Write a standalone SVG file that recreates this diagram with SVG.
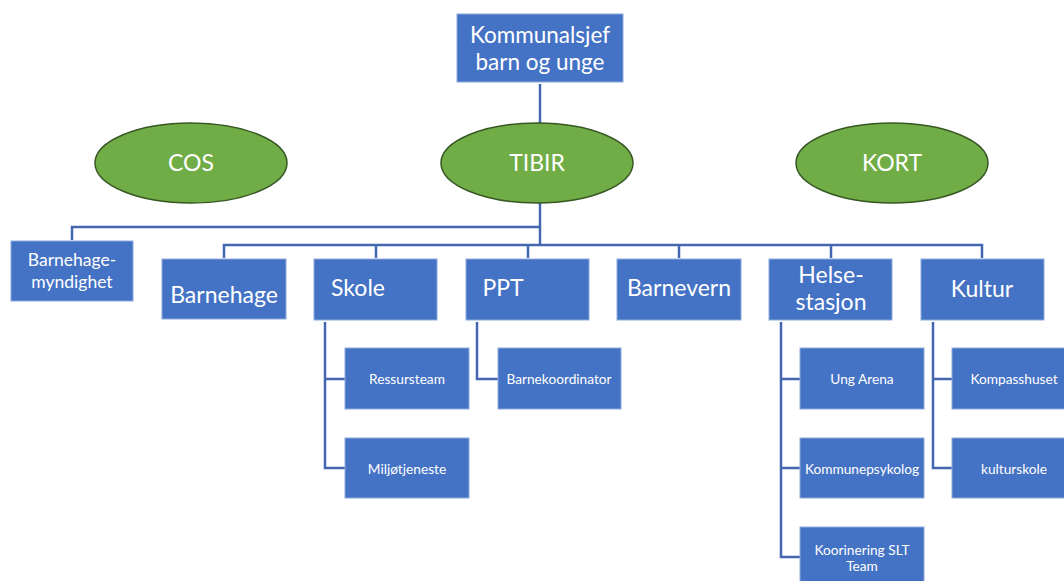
<svg xmlns="http://www.w3.org/2000/svg" width="1064" height="581" viewBox="0 0 1064 581">
<style>
.box{fill:#4472C4;stroke:#8FAADC;stroke-width:1}
.ell{fill:#70AD47;stroke:#385723;stroke-width:1.5}
.t{font-family:Lato,"Open Sans",sans-serif;fill:#FFFFFF;text-anchor:middle;dominant-baseline:central}
.big{font-size:23px}
.ttl{font-size:22.5px}
.med{font-size:17.5px}
.sm{font-size:13.7px}
.ln{fill:none;stroke:#4467B0;stroke-width:2.5}
</style>
<rect width="1064" height="581" fill="#FFFFFF"/>
<g id="connectors">
<path class="ln" d="M540 84 V245"/>
<path class="ln" d="M540 227 H72 V240"/>
<path class="ln" d="M224 258 V245 H982 V258"/>
<path class="ln" d="M376 245 V258 M528 245 V258 M679 245 V258 M831 245 V258"/>
<path class="ln" d="M325 322 V468 H345 M325 379 H345"/>
<path class="ln" d="M477 322 V379 H498"/>
<path class="ln" d="M781 322 V557 H800 M781 379 H800 M781 468 H800"/>
<path class="ln" d="M933 322 V468 H952 M933 379 H952"/>
</g>
<g id="kommunalsjef"><rect class="box" x="457" y="14" width="166" height="68"/><text class="t ttl" x="540" y="34">Kommunalsjef</text><text class="t ttl" x="540" y="61">barn og unge</text></g>
<g id="cos"><ellipse class="ell" cx="191" cy="163" rx="96" ry="40"/><text class="t big" x="191" y="162">COS</text></g>
<g id="tibir"><ellipse class="ell" cx="537" cy="163" rx="96" ry="40"/><text class="t big" x="537" y="162">TIBIR</text></g>
<g id="kort"><ellipse class="ell" cx="892" cy="163" rx="96" ry="40"/><text class="t big" x="892" y="162">KORT</text></g>
<g id="barnehagemyndighet"><rect class="box" x="11" y="241" width="122" height="60"/><text class="t med" x="72" y="259">Barnehage-</text><text class="t med" x="72" y="281">myndighet</text></g>
<g id="barnehage"><rect class="box" x="162" y="259" width="124" height="60"/><text class="t big" x="224" y="294">Barnehage</text></g>
<g id="skole"><rect class="box" x="314" y="259" width="123" height="61"/><text class="t big" x="358" y="287">Skole</text></g>
<g id="ppt"><rect class="box" x="466" y="259" width="123" height="61"/><text class="t big" x="503" y="287">PPT</text></g>
<g id="barnevern"><rect class="box" x="617" y="259" width="124" height="61"/><text class="t big" x="679" y="287">Barnevern</text></g>
<g id="helsestasjon"><rect class="box" x="769" y="259" width="123" height="61"/><text class="t big" x="831" y="274">Helse-</text><text class="t big" x="831" y="301">stasjon</text></g>
<g id="kultur"><rect class="box" x="921" y="259" width="123" height="61"/><text class="t big" x="982" y="288">Kultur</text></g>
<g id="ressursteam"><rect class="box" x="345" y="348" width="124" height="61"/><text class="t sm" x="407" y="378">Ressursteam</text></g>
<g id="miljotjeneste"><rect class="box" x="345" y="438" width="124" height="60"/><text class="t sm" x="407" y="468">Miljøtjeneste</text></g>
<g id="barnekoordinator"><rect class="box" x="498" y="348" width="123" height="61"/><text class="t sm" x="559" y="378">Barnekoordinator</text></g>
<g id="ungarena"><rect class="box" x="800" y="348" width="124" height="61"/><text class="t sm" x="862" y="378">Ung Arena</text></g>
<g id="kommunepsykolog"><rect class="box" x="800" y="438" width="124" height="60"/><text class="t sm" x="862" y="468">Kommunepsykolog</text></g>
<g id="koorinering"><rect class="box" x="800" y="527" width="124" height="61"/><text class="t sm" x="862" y="549">Koorinering SLT</text><text class="t sm" x="862" y="565">Team</text></g>
<g id="kompasshuset"><rect class="box" x="952" y="348" width="124" height="61"/><text class="t sm" x="1014" y="378">Kompasshuset</text></g>
<g id="kulturskole"><rect class="box" x="952" y="438" width="124" height="60"/><text class="t sm" x="1014" y="468">kulturskole</text></g>
</svg>
